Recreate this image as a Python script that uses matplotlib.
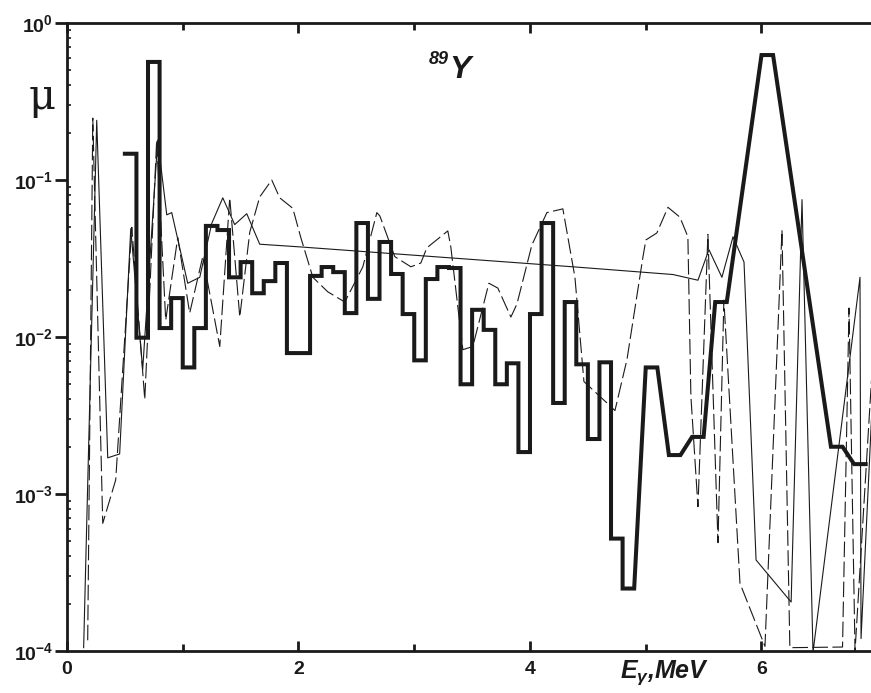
import matplotlib
matplotlib.use("Agg")
import matplotlib.pyplot as plt
from matplotlib.ticker import FixedLocator, LogLocator, NullFormatter
import numpy as np

plt.rcParams['font.family'] = ['Liberation Sans', 'DejaVu Sans']
plt.rcParams['mathtext.fontset'] = 'custom'
plt.rcParams['mathtext.rm'] = 'Liberation Sans:bold'
plt.rcParams['mathtext.bf'] = 'Liberation Sans:bold'
plt.rcParams['mathtext.it'] = 'Liberation Sans:bold:italic'

## Thick histogram: bins (lo, hi) in MeV and mu
thick_lo = [0.5, 0.6, 0.7, 0.8, 0.9, 1.0, 1.1, 1.2, 1.3, 1.4, 1.5, 1.6, 1.7, 1.8, 1.9,
            2.1, 2.2, 2.3, 2.4, 2.5, 2.6, 2.7, 2.8, 2.9, 3.0, 3.1, 3.2, 3.3, 3.4, 3.5,
            3.6, 3.7, 3.8, 3.9, 4.0, 4.1, 4.2, 4.3, 4.4, 4.5, 4.6, 4.7, 4.8,
            5.0, 5.2, 5.4, 5.6, 6.0, 6.6, 6.8]
thick_hi = [0.6, 0.7, 0.8, 0.9, 1.0, 1.1, 1.2, 1.3, 1.4, 1.5, 1.6, 1.7, 1.8, 1.9, 2.1,
            2.2, 2.3, 2.4, 2.5, 2.6, 2.7, 2.8, 2.9, 3.0, 3.1, 3.2, 3.3, 3.4, 3.5, 3.6,
            3.7, 3.8, 3.9, 4.0, 4.1, 4.2, 4.3, 4.4, 4.5, 4.6, 4.7, 4.8, 4.9,
            5.1, 5.3, 5.5, 5.7, 6.1, 6.7, 6.9]
thick_mu = [0.147, 0.0099, 0.565, 0.0114, 0.0177, 0.0064, 0.0114, 0.051, 0.048, 0.024,
            0.030, 0.019, 0.0227, 0.0296, 0.0079,
            0.0245, 0.0279, 0.0259, 0.0142, 0.0532, 0.0175, 0.0403, 0.0252, 0.0140, 0.0071,
            0.0234, 0.0279, 0.0275, 0.0050, 0.0149, 0.0111, 0.0050, 0.0068, 0.00185, 0.0140,
            0.0532, 0.0038, 0.0167, 0.0067, 0.00224, 0.0069, 0.00052, 0.00025,
            0.0064, 0.00177, 0.00231, 0.0167, 0.625, 0.0020, 0.00155]

## Thin solid curve
solid_E = [0.144, 0.257, 0.352, 0.455, 0.551, 0.654, 0.784, 0.862, 0.905, 1.043,
           1.147, 1.251, 1.346, 1.449, 1.553, 1.665, 2.011, 4.371, 5.235, 5.451,
           5.546, 5.658, 5.754, 5.849, 5.953, 6.256, 6.350, 6.445, 6.851, 6.860, 6.95]
solid_mu = [1.05e-4, 0.24, 0.0017, 0.0018, 0.049, 0.0062, 0.18, 0.060, 0.062, 0.022,
            0.024, 0.053, 0.077, 0.052, 0.061, 0.039, 0.0375, 0.028, 0.025, 0.023,
            0.036, 0.024, 0.0435, 0.030, 0.00038, 0.000205, 0.075, 9.8e-5, 0.024, 1.2e-4, 0.003]

## Thin dashed curve
dash_E = [0.179, 0.223, 0.309, 0.421, 0.560, 0.672, 0.775, 0.853, 0.957, 1.060,
          1.173, 1.320, 1.406, 1.493, 1.579, 1.665, 1.769, 1.838, 1.951, 2.020,
          2.124, 2.253, 2.400, 2.556, 2.677, 2.703, 2.832, 2.971, 3.057, 3.109,
          3.290, 3.316, 3.420, 3.506, 3.645, 3.722, 3.835, 3.887, 4.016, 4.146,
          4.284, 4.388, 4.466, 4.665, 4.734, 4.838, 4.976, 5.001, 5.096, 5.192,
          5.295, 5.364, 5.390, 5.451, 5.537, 5.624, 5.675, 5.814, 6.03, 6.177,
          6.245, 6.70, 6.756, 6.808, 6.95]
dash_mu = [1.17e-4, 0.248, 0.00065, 0.00123, 0.050, 0.004, 0.18, 0.0128, 0.043, 0.0142,
           0.0325, 0.0087, 0.077, 0.0134, 0.0465, 0.078, 0.1, 0.077, 0.066, 0.043,
           0.024, 0.0194, 0.0167, 0.028, 0.062, 0.059, 0.0325, 0.028, 0.0296, 0.037,
           0.0474, 0.0375, 0.0083, 0.0087, 0.022, 0.0205, 0.0134, 0.0162, 0.0385, 0.062,
           0.0655, 0.0241, 0.0052, 0.0038, 0.0034, 0.0072, 0.0324, 0.0415, 0.046, 0.067,
           0.058, 0.0435, 0.0042, 0.00083, 0.045, 0.00049, 0.0172, 0.00027, 1.07e-4, 0.048,
           1.05e-4, 1.06e-4, 0.0153, 1.0e-4, 0.0053]

fig = plt.figure(figsize=(8.71, 6.93), dpi=100)
ax = fig.add_axes([0.0769, 0.0606, 0.9231, 0.9062])

# thick line: plateau per bin, joined to the next bin
xs, ys = [], []
for lo, hi, m in zip(thick_lo, thick_hi, thick_mu):
    xs += [lo, hi]
    ys += [m, m]
ax.plot(xs, ys, color='#1a1a1a', lw=2.9, solid_joinstyle='miter', zorder=3)
ax.plot(solid_E, solid_mu, color='#1a1a1a', lw=0.8, zorder=2)
ax.plot(dash_E, dash_mu, color='#1a1a1a', lw=0.8, dashes=(14, 4), zorder=2)

ax.set_yscale('log')
ax.set_ylim(1e-4, 1)
ax.set_xlim(0, 6.946)

for s in ['left', 'bottom', 'top']:
    ax.spines[s].set_linewidth(2)
    ax.spines[s].set_color('#1a1a1a')
ax.spines['right'].set_visible(False)

ax.xaxis.set_major_locator(FixedLocator([0, 2, 4, 6]))
ax.xaxis.set_minor_locator(FixedLocator([1, 3, 5]))
ax.set_xticklabels(['0', '2', '4', '6'], fontsize=14, fontweight='bold')
ax.tick_params(axis='x', which='major', direction='in', length=7, width=2,
               top=True, pad=7, colors='#1a1a1a')
ax.tick_params(axis='x', which='minor', direction='in', length=5, width=2, top=True,
               colors='#1a1a1a')

ax.yaxis.set_major_locator(FixedLocator([1e-4, 1e-3, 1e-2, 1e-1, 1]))
ax.set_yticklabels([r'$\mathbf{10^{-4}}$', r'$\mathbf{10^{-3}}$', r'$\mathbf{10^{-2}}$',
                    r'$\mathbf{10^{-1}}$', r'$\mathbf{10^{0}}$'], fontsize=14)
ax.yaxis.set_minor_locator(LogLocator(base=10, subs=np.arange(2, 10), numticks=20))
ax.yaxis.set_minor_formatter(NullFormatter())
ax.tick_params(axis='y', which='major', direction='out', length=9, width=2, pad=1,
               colors='#1a1a1a')
ax.tick_params(axis='y', which='minor', direction='in', length=3, width=1.2,
               colors='#1a1a1a')

fig.text(42 / 871, 1 - 97 / 693, 'μ', fontsize=30, ha='center', va='center',
         family=['DejaVu Serif'], color='#1a1a1a')
fig.text(449 / 871, 1 - 60 / 693, '89', fontsize=13, fontweight='bold', style='italic',
         ha='right', va='center', color='#1a1a1a')
fig.text(449 / 871, 1 - 70 / 693, 'Y', fontsize=23, fontweight='bold', style='italic',
         ha='left', va='center', color='#1a1a1a')
fig.text(665 / 871, 1 - 673 / 693, r'$E_{\gamma}$,MeV', fontsize=18, fontweight='bold',
         style='italic', ha='center', va='center', color='#1a1a1a')

fig.savefig('out.png', dpi=100)
